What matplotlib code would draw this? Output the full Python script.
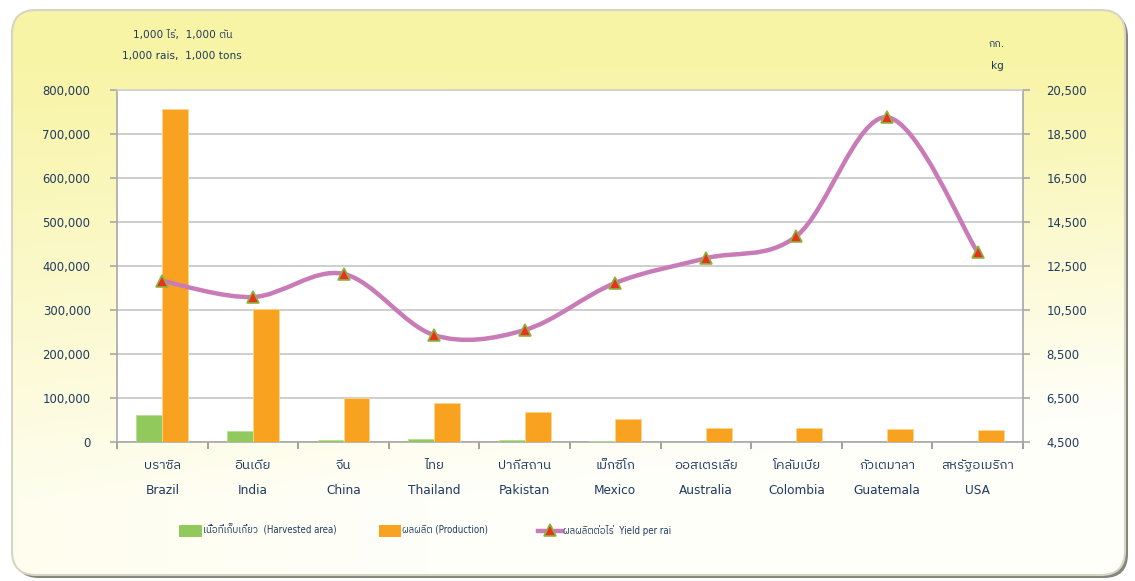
import numpy as np
import matplotlib
matplotlib.use("Agg")
import matplotlib.pyplot as plt
from matplotlib import font_manager
from matplotlib.ft2font import FT2Font
from matplotlib.patches import FancyBboxPatch, Rectangle, PathPatch
from matplotlib.path import Path
from matplotlib.lines import Line2D
from matplotlib.ticker import FuncFormatter, FixedLocator


# find a font that has Thai glyphs
thai_font = None
for f in font_manager.fontManager.ttflist:
    try:
        if ord("ก") in FT2Font(f.fname).get_charmap():
            thai_font = f.name
            if "Thai" in f.name:
                break
    except Exception:
        pass
fams = ["DejaVu Sans"] + ([thai_font] if thai_font else [])
plt.rcParams["font.family"] = fams

countries_th = ["บราซิล", "อินเดีย", "จีน", "ไทย", "ปากีสถาน", "เม็กซิโก",
                "ออสเตรเลีย", "โคลัมเบีย", "กัวเตมาลา", "สหรัฐอเมริกา"]
countries_en = ["Brazil", "India", "China", "Thailand", "Pakistan", "Mexico",
                "Australia", "Colombia", "Guatemala", "USA"]
area = [62000, 25000, 5000, 7000, 4000, 2500, 600, 500, 400, 300]  # 1,000 rai
production = [757000, 302000, 101000, 89000, 68000, 53000, 32000, 31000, 30000, 27000]  # 1,000 tons
yield_rai = [11820, 11090, 12140, 9360, 9590, 11730, 12850, 13860, 19260, 13120]  # kg

txt = "#1F3A5F"
green = "#92C95C"
orange = "#F8A21F"
pink = "#C97BB8"

W, H = 1135, 581
fig = plt.figure(figsize=(W / 100, H / 100), dpi=100)
fig.patch.set_facecolor("white")

# background frame with yellow gradient
bg = fig.add_axes([0, 0, 1, 1], zorder=0)
bg.set_xlim(0, W)
bg.set_ylim(H, 0)
bg.axis("off")
yy, xx = np.mgrid[0:H, 0:W]
ty = np.clip((yy - 60) / 440.0, 0, 1)
t = np.clip(ty * (0.85 + 0.4 * xx / W), 0, 1)
yel = np.array([248, 244, 166]) / 255.0
wht = np.array([255, 255, 250]) / 255.0
img = yel[None, None, :] * (1 - t[..., None]) + wht[None, None, :] * t[..., None]
shadow = FancyBboxPatch((15, 13), 1113, 565, boxstyle="round,pad=0,rounding_size=24",
                        facecolor="#85857A", edgecolor="none", zorder=0)
bg.add_patch(shadow)
frame = FancyBboxPatch((12, 10), 1113, 565, boxstyle="round,pad=0,rounding_size=24",
                       facecolor="none", edgecolor="#D5D5C5", lw=1.5, zorder=2)
bg.add_patch(frame)
im = bg.imshow(img, extent=(0, W, H, 0), zorder=1, aspect="auto")
im.set_clip_path(frame)

# main plot
ax = fig.add_axes([117 / W, 1 - 442 / H, (1023 - 117) / W, (442 - 90) / H], zorder=2)
ax.set_facecolor("white")
x = np.arange(len(countries_en))
bw = 0.285
ax.bar(x - bw / 2, area, bw, color=green, edgecolor="#B8DE98", lw=0.6, zorder=3)
ax.bar(x + bw / 2, production, bw, color=orange, edgecolor="#FBD58E", lw=0.6, zorder=3)
ax.set_xlim(-0.5, len(x) - 0.5)
ax.set_ylim(0, 800000)
ax.yaxis.set_major_locator(FixedLocator(np.arange(0, 800001, 100000)))
ax.yaxis.set_major_formatter(FuncFormatter(lambda v, p: f"{int(v):,}"))
ax.grid(axis="y", color="#C6C6C6", lw=1.2, zorder=1)
ax.set_axisbelow(True)
ax.set_xticks(np.arange(-0.5, len(x), 1.0))
ax.set_xticklabels([])
for s in ["left", "right", "bottom", "top"]:
    ax.spines[s].set_color("#A8A8A8")
    ax.spines[s].set_linewidth(1.2)
ax.spines["top"].set_color("#D0D0D0")
ax.tick_params(axis="x", length=5, color="#909090", width=1.2)
ax.tick_params(axis="y", length=5, color="#A8A8A8", width=1.2, labelsize=8.4,
               labelcolor=txt, pad=14)

for i in x:
    ax.text(i, -0.068, countries_th[i], transform=ax.get_xaxis_transform(),
            ha="center", va="center", fontsize=9.5, color=txt)
    ax.text(i, -0.139, countries_en[i], transform=ax.get_xaxis_transform(),
            ha="center", va="center", fontsize=8.7, color=txt)

# yield per rai on the right axis, drawn as a smoothed curve
ax2 = ax.twinx()
ax2.set_ylim(4500, 20500)
ax2.yaxis.set_major_locator(FixedLocator(np.arange(4500, 20501, 2000)))
ax2.yaxis.set_major_formatter(FuncFormatter(lambda v, p: f"{int(v):,}"))
ax2.tick_params(axis="y", length=5, color="#A8A8A8", width=1.2, labelsize=8.4,
                labelcolor=txt, pad=12)
for s in ax2.spines.values():
    s.set_visible(False)

pts = np.column_stack([x, yield_rai]).astype(float)
verts = [pts[0]]
codes = [Path.MOVETO]
for i in range(len(pts) - 1):
    p0 = pts[max(i - 1, 0)]
    p1 = pts[i]
    p2 = pts[i + 1]
    p3 = pts[min(i + 2, len(pts) - 1)]
    verts += [p1 + (p2 - p0) / 6, p2 - (p3 - p1) / 6, p2]
    codes += [Path.CURVE4] * 3
ax2.add_patch(PathPatch(Path(verts, codes), facecolor="none", edgecolor=pink,
                        lw=3.2, zorder=4, capstyle="round"))
ax2.plot(x, yield_rai, ls="none", marker="^", ms=8, mfc="#E8321E", mec="#8DB443",
         mew=1.2, zorder=5)

# units
fig.text(183 / W, 1 - 35 / H, "1,000 ไร่,  1,000 ตัน", ha="center", va="center",
         fontsize=7.6, color=txt)
fig.text(182 / W, 1 - 56 / H, "1,000 rais,  1,000 tons", ha="center", va="center",
         fontsize=7.6, color=txt)
fig.text(997 / W, 1 - 44 / H, "กก.", ha="center", va="center", fontsize=7.6, color=txt)
fig.text(997 / W, 1 - 66 / H, "kg", ha="center", va="center", fontsize=7.6, color=txt)

# legend
lg = fig.add_axes([0, 0, 1, 1], zorder=3)
lg.set_xlim(0, W)
lg.set_ylim(H, 0)
lg.axis("off")
lg.add_patch(Rectangle((179, 525), 23, 12, facecolor=green, edgecolor="none"))
lg.text(203, 530, "เนื้อที่เก็บเกี่ยว  (Harvested area)", va="center", fontsize=6.9,
        color=txt, fontstretch="condensed")
lg.add_patch(Rectangle((379, 525), 22, 12, facecolor=orange, edgecolor="none"))
lg.text(402, 530, "ผลผลิต (Production)", va="center", fontsize=6.9, color=txt,
        fontstretch="condensed")
lg.add_line(Line2D([538, 562], [531, 531], color=pink, lw=3.2))
lg.plot([550], [530], marker="^", ms=8, mfc="#E8321E", mec="#8DB443", mew=1.2)
lg.text(563, 530, "ผลผลิตต่อไร่  Yield per rai", va="center", fontsize=6.9, color=txt,
        fontstretch="condensed")

fig.savefig("out.png", dpi=100)
